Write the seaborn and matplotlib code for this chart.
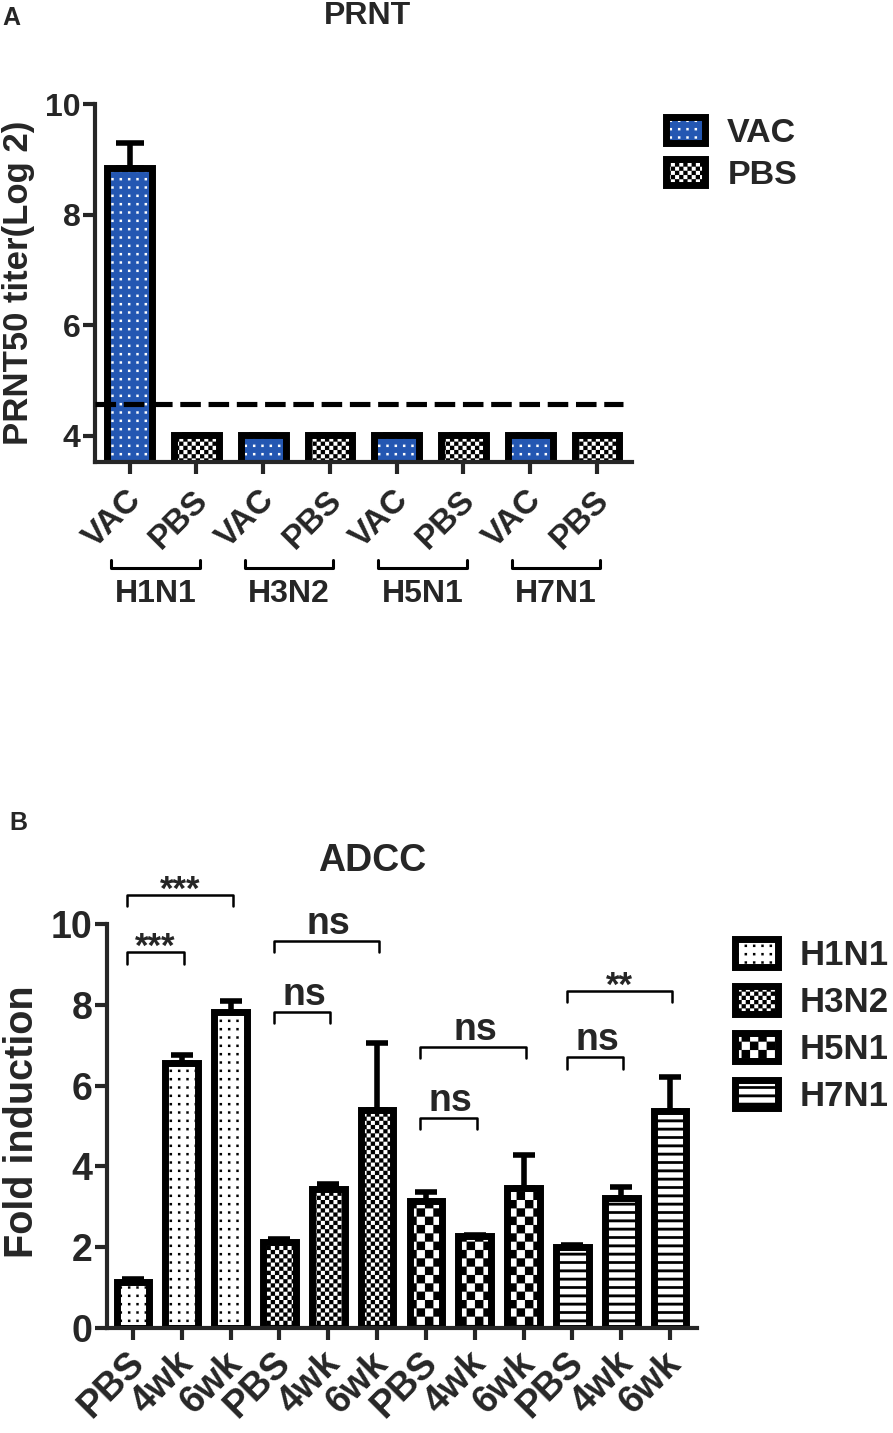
import warnings
import numpy as np
import pandas as pd
import matplotlib
matplotlib.use('Agg')
import matplotlib.pyplot as plt
import matplotlib.hatch as mhatch
from matplotlib.path import Path
from matplotlib.patches import Rectangle
from matplotlib.legend_handler import HandlerTuple
from matplotlib.transforms import ScaledTranslation
import seaborn as sns

warnings.filterwarnings('ignore')

# ---------------- data ----------------
# Panel A: PRNT50 titers (log2)
prnt_groups = ['H1N1', 'H3N2', 'H5N1', 'H7N1']
prnt_treat = ['VAC', 'PBS']
prnt_mean = [8.85, 4.02, 4.02, 4.02, 4.02, 4.02, 4.02, 4.02]
prnt_sem = [0.45, 0.0, 0.0, 0.0, 0.0, 0.0, 0.0, 0.0]
prnt_cutoff = 4.58

# Panel B: ADCC fold induction
adcc_strains = ['H1N1', 'H3N2', 'H5N1', 'H7N1']
adcc_times = ['PBS', '4wk', '6wk']
adcc_mean = [1.15, 6.55, 7.82, 2.13, 3.44, 5.40, 3.14, 2.28, 3.46, 2.00, 3.22, 5.36]
adcc_sem = [0.05, 0.20, 0.28, 0.08, 0.12, 1.65, 0.23, 0.03, 0.82, 0.05, 0.28, 0.85]

# significance brackets (bar index pairs, label, bracket height)
sig_pairs = [(0, 2), (0, 1), (3, 5), (3, 4), (6, 8), (6, 7), (9, 11), (9, 10)]
sig_labels = ['***', '***', 'ns', 'ns', 'ns', 'ns', '**', 'ns']
sig_heights = [10.72, 9.30, 9.58, 7.82, 6.96, 5.20, 8.34, 6.70]


# ---------------- custom fill patterns (checker, dots, stripes) ----------------
class TileHatch(mhatch.HatchPatternBase):
    def __init__(self, hatch, density):
        self.kind = None
        self.num_vertices = 0
        for ch in 'cds':
            if ch in hatch:
                self.kind = ch
                self.n = hatch.count(ch) * density
        if self.kind is None:
            return
        n = self.n
        if self.kind == 'c':
            self.cells = [(i, j) for i in range(n) for j in range(n) if (i + j) % 2 == 0]
        elif self.kind == 'd':
            self.cells = [(i, j) for i in range(n) for j in range(n)]
        else:
            self.cells = [(0, j) for j in range(n)]
        self.num_vertices = len(self.cells) * 5

    def set_vertices_and_codes(self, vertices, codes):
        step = 1.0 / self.n
        for k, (i, j) in enumerate(self.cells):
            if self.kind == 'c':
                x0, x1 = i * step, (i + 1) * step
                y0, y1 = j * step, (j + 1) * step
            elif self.kind == 'd':
                cx, cy = (i + 0.5) * step, (j + 0.5) * step
                x0, x1 = cx - 0.14 * step, cx + 0.14 * step
                y0, y1 = cy - 0.14 * step, cy + 0.14 * step
            else:
                cy = (j + 0.5) * step
                x0, x1 = 0.0, 1.0
                y0, y1 = cy - 0.16 * step, cy + 0.16 * step
            vertices[k * 5:(k + 1) * 5] = [(x0, y0), (x1, y0), (x1, y1), (x0, y1), (x0, y0)]
            codes[k * 5:(k + 1) * 5] = [Path.MOVETO, Path.LINETO, Path.LINETO,
                                        Path.LINETO, Path.CLOSEPOLY]


mhatch._hatch_types.append(TileHatch)

# ---------------- style ----------------
sns.set_theme(style='ticks')
plt.rcParams['font.family'] = ['Liberation Sans', 'DejaVu Sans']
plt.rcParams['font.weight'] = 'bold'
plt.rcParams['axes.labelweight'] = 'bold'
plt.rcParams['hatch.linewidth'] = 0.1
plt.rcParams['axes.linewidth'] = 3

BLUE = '#2457b2'
EDGE_LW = 5

fig = plt.figure(figsize=(8.93, 14.33), dpi=100)
axA = fig.add_axes([0.1064, 0.6776, 0.601, 0.2498])
axB = fig.add_axes([0.1198, 0.0733, 0.6607, 0.2819])


def style_bars(ax, fills):
    """fills: list of (facecolor, hatch, hatchcolor) per bar, in bar order"""
    for p, (fc, ht, hc) in zip(ax.patches[:len(fills)], fills):
        p.set_facecolor(fc)
        p.set_hatch(ht)
        p.set_edgecolor(hc)
        p.set_linewidth(0)
        outline = Rectangle((p.get_x(), p.get_y()), p.get_width(), p.get_height(),
                            fill=False, ec='black', lw=EDGE_LW, zorder=p.get_zorder() + 0.2)
        ax.add_patch(outline)


def legend_handle(fc, ht, hc):
    inner = Rectangle((0, 0), 1, 1, facecolor=fc, hatch=ht, edgecolor=hc, lw=0)
    outer = Rectangle((0, 0), 1, 1, fill=False, edgecolor='black', lw=EDGE_LW)
    return (inner, outer)


def shift_labels(labels, dx, dy):
    off = ScaledTranslation(dx / 100, dy / 100, fig.dpi_scale_trans)
    for lab in labels:
        lab.set_transform(lab.get_transform() + off)


overlay = {tuple: HandlerTuple(ndivide=1, pad=0)}

# ---------------- Panel A ----------------
a_ids = [f'{g} {t}' for g in prnt_groups for t in prnt_treat]
a_ticks = [t for g in prnt_groups for t in prnt_treat]
df_a = pd.DataFrame({'bar': a_ids, 'titer': prnt_mean})
sns.barplot(data=df_a, x='bar', y='titer', order=a_ids, width=0.67,
            errorbar=None, color='white', ax=axA)

fill_a = {'VAC': (BLUE, 'dd', 'white'), 'PBS': ('white', 'cccc', 'black')}
style_bars(axA, [fill_a[t] for t in a_ticks])

xa = np.arange(len(a_ids))
axA.errorbar(xa, prnt_mean, yerr=[np.zeros(len(xa)), prnt_sem], fmt='none',
             ecolor='black', elinewidth=4, capsize=10, capthick=4, zorder=3)
axA.axhline(prnt_cutoff, xmin=0, xmax=0.983, color='black', lw=3.7,
            ls=(0, (4.0, 1.5)), zorder=4)

axA.set_xlim(-0.52, len(a_ids) - 0.48)
axA.set_ylim(3.53, 10)
axA.set_yticks([4, 6, 8, 10])
axA.set_xticks(xa)
axA.set_xticklabels(a_ticks, rotation=45, ha='right', va='center',
                    rotation_mode='anchor', fontsize=24)
axA.tick_params(axis='y', labelsize=23, width=3, length=8.5, pad=2)
axA.tick_params(axis='x', width=3, length=8.5, pad=12)
shift_labels(axA.get_xticklabels(), 7, -5)
axA.set_xlabel('')
axA.set_ylabel('PRNT50 titer(Log 2)', fontsize=25)
axA.yaxis.set_label_coords(-0.112, 0.5)
sns.despine(ax=axA)

tr = axA.get_xaxis_transform()
for k, g in enumerate(prnt_groups):
    x0, x1 = 2 * k - 0.28, 2 * k + 1 + 0.05
    axA.plot([x0, x0, x1, x1], [-0.274, -0.296, -0.296, -0.274], color='black',
             lw=2.2, transform=tr, clip_on=False)
    axA.text((x0 + x1) / 2, -0.368, g, transform=tr, ha='center', va='center',
             fontsize=23)

fig.legend(handles=[legend_handle(*fill_a['VAC']), legend_handle(*fill_a['PBS'])],
           labels=['VAC', 'PBS'], handler_map=overlay,
           loc='upper left', bbox_to_anchor=(666 / 893, 1 - 117 / 1433),
           frameon=False, fontsize=24.5, handlelength=1.15, handleheight=0.8,
           labelspacing=0.3, handletextpad=0.65, borderpad=0, borderaxespad=0)

# ---------------- Panel B ----------------
b_ids = [f'{s} {t}' for s in adcc_strains for t in adcc_times]
b_ticks = [t for s in adcc_strains for t in adcc_times]
b_strain = [s for s in adcc_strains for t in adcc_times]
df_b = pd.DataFrame({'bar': b_ids, 'fold': adcc_mean, 'strain': b_strain})
sns.barplot(data=df_b, x='bar', y='fold', order=b_ids, width=0.67,
            errorbar=None, color='white', ax=axB)

fill_b = {'H1N1': ('white', 'dd', 'black'), 'H3N2': ('white', 'cccc', 'black'),
          'H5N1': ('white', 'cc', 'black'), 'H7N1': ('white', 'ss', 'black')}
style_bars(axB, [fill_b[s] for s in b_strain])

xb = np.arange(len(b_ids))
axB.errorbar(xb, adcc_mean, yerr=[np.zeros(len(xb)), adcc_sem], fmt='none',
             ecolor='black', elinewidth=4, capsize=8, capthick=4, zorder=3)

axB.set_xlim(-0.53, len(b_ids) - 0.45)
axB.set_ylim(0, 10)
axB.set_yticks([0, 2, 4, 6, 8, 10])
axB.set_xticks(xb)
axB.set_xticklabels(b_ticks, rotation=45, ha='right', va='center',
                    rotation_mode='anchor', fontsize=27)
axB.tick_params(axis='y', labelsize=27, width=3, length=8.5, pad=2)
axB.tick_params(axis='x', width=3, length=8.5, pad=12)
shift_labels(axB.get_xticklabels(), 6, -1)
axB.set_xlabel('')
axB.set_ylabel('Fold induction', fontsize=28.5)
axB.yaxis.set_label_coords(-0.111, 0.51)
sns.despine(ax=axB)

for (i, j), lab, h in zip(sig_pairs, sig_labels, sig_heights):
    x0, x1 = i - 0.12, j + 0.04
    axB.plot([x0, x0, x1, x1], [h - 0.28, h, h, h - 0.28], color='black', lw=1.8,
             clip_on=False)
    if lab == 'ns':
        axB.text((x0 + x1) / 2 + 0.05, h + 0.42, lab, ha='center', va='center',
                 fontsize=27)
    else:
        axB.text((x0 + x1) / 2, h + 0.12, lab, ha='center', va='center',
                 fontsize=25)

fig.legend(handles=[legend_handle(*fill_b[s]) for s in adcc_strains],
           labels=adcc_strains, handler_map=overlay,
           loc='upper left', bbox_to_anchor=(735 / 893, 1 - 939 / 1433),
           frameon=False, fontsize=25, handlelength=1.24, handleheight=0.86,
           labelspacing=0.4, handletextpad=0.62, borderpad=0, borderaxespad=0)

# ---------------- titles & panel letters ----------------
fig.text(368 / 893, 1 - 1 / 1433, 'PRNT', ha='center', va='top', fontsize=23)
fig.text(372 / 893, 1 - 843 / 1433, 'ADCC', ha='center', va='top', fontsize=27)
fig.text(0.003, 1 - 6 / 1433, 'A', ha='left', va='top', fontsize=18)
fig.text(0.010, 1 - 811 / 1433, 'B', ha='left', va='top', fontsize=18)

fig.savefig('out.png', dpi=100)
